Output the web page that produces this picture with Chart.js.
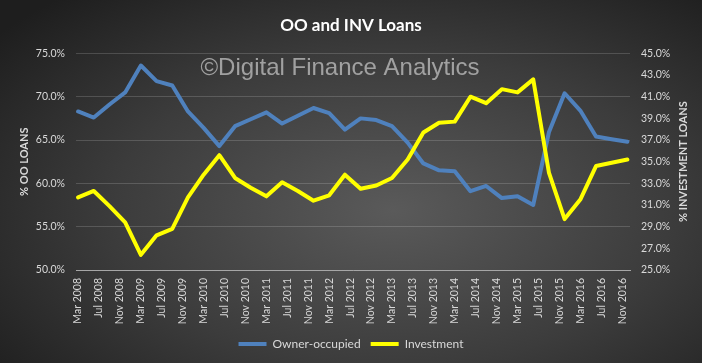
<!DOCTYPE html>
<html>
<head>
<meta charset="utf-8">
<title>OO and INV Loans</title>
<script src="https://cdn.jsdelivr.net/npm/chart.js@4.4.1/dist/chart.umd.min.js"></script>
<style>
  html, body { margin: 0; padding: 0; }
  body {
    width: 702px; height: 363px; overflow: hidden;
    background: radial-gradient(ellipse 72% 78% at 56% 58%, #5a5a5a 0%, #3c3c3c 55%, #1e1e1e 100%);
  }
  #wrap { position: relative; width: 702px; height: 363px; }
</style>
</head>
<body>
<div id="wrap"><canvas id="chart" width="702" height="363"></canvas></div>
<script>
// ── Data (quarterly shares, %) ──
const quarters = [
  'Mar 2008', 'Jun 2008', 'Sep 2008', 'Dec 2008',
  'Mar 2009', 'Jun 2009', 'Sep 2009', 'Dec 2009',
  'Mar 2010', 'Jun 2010', 'Sep 2010', 'Dec 2010',
  'Mar 2011', 'Jun 2011', 'Sep 2011', 'Dec 2011',
  'Mar 2012', 'Jun 2012', 'Sep 2012', 'Dec 2012',
  'Mar 2013', 'Jun 2013', 'Sep 2013', 'Dec 2013',
  'Mar 2014', 'Jun 2014', 'Sep 2014', 'Dec 2014',
  'Mar 2015', 'Jun 2015', 'Sep 2015', 'Dec 2015',
  'Mar 2016', 'Jun 2016', 'Sep 2016', 'Dec 2016'
];
const ownerOccupied = [
  68.3, 67.6, 69.1, 70.5, 73.6, 71.8, 71.3, 68.3, 66.4, 64.3, 66.6, 67.4,
  68.2, 66.9, 67.8, 68.7, 68.1, 66.2, 67.5, 67.3, 66.6, 64.7, 62.3, 61.5,
  61.4, 59.1, 59.7, 58.3, 58.5, 57.5, 65.9, 70.4, 68.4, 65.4, 65.1, 64.8
];
const investment = [
  31.7, 32.3, 30.9, 29.4, 26.4, 28.2, 28.8, 31.7, 33.8, 35.6, 33.5, 32.6,
  31.8, 33.1, 32.3, 31.4, 31.9, 33.8, 32.5, 32.8, 33.5, 35.2, 37.7, 38.6,
  38.7, 41.0, 40.4, 41.7, 41.4, 42.6, 34.0, 29.7, 31.5, 34.6, 34.9, 35.2
];
// x-axis labels, one every 4 months
const tickLabels = [
  'Mar 2008', 'Jul 2008', 'Nov 2008', 'Mar 2009', 'Jul 2009', 'Nov 2009',
  'Mar 2010', 'Jul 2010', 'Nov 2010', 'Mar 2011', 'Jul 2011', 'Nov 2011',
  'Mar 2012', 'Jul 2012', 'Nov 2012', 'Mar 2013', 'Jul 2013', 'Nov 2013',
  'Mar 2014', 'Jul 2014', 'Nov 2014', 'Mar 2015', 'Jul 2015', 'Nov 2015',
  'Mar 2016', 'Jul 2016', 'Nov 2016'
];
const ooTicks = [50, 55, 60, 65, 70, 75];
const invTicks = [25, 27, 29, 31, 33, 35, 37, 39, 41, 43, 45];

const MONTHS = ['Jan', 'Feb', 'Mar', 'Apr', 'May', 'Jun', 'Jul', 'Aug', 'Sep', 'Oct', 'Nov', 'Dec'];

// months since Mar 2008
function monthIndex(label) {
  const [m, y] = label.split(' ');
  return (Number(y) - 2008) * 12 + MONTHS.indexOf(m) - 2;
}

const toPoints = values => values.map((v, i) => ({ x: monthIndex(quarters[i]), y: v }));

const TEXT = '#d9d9d9';
const FONT = 'Lato, "Open Sans", sans-serif';

// ── Watermark + axis titles ──
const extraText = {
  id: 'extraText',
  beforeDatasetsDraw(chart) {
    const ctx = chart.ctx;
    ctx.save();
    ctx.font = '24px "Liberation Sans", Arial, sans-serif';
    ctx.fillStyle = 'rgba(200,200,200,0.72)';
    ctx.textAlign = 'center';
    ctx.textBaseline = 'alphabetic';
    ctx.fillText('©Digital Finance Analytics', 340, 75);
    ctx.restore();
  },
  afterDraw(chart) {
    const ctx = chart.ctx;
    const a = chart.chartArea;
    const midY = (a.top + a.bottom) / 2;
    ctx.save();
    ctx.font = 'bold 11px ' + FONT;
    ctx.fillStyle = TEXT;
    ctx.textAlign = 'center';
    ctx.textBaseline = 'middle';
    [[24, '% OO LOANS'], [683, '% INVESTMENT LOANS']].forEach(([x, txt]) => {
      ctx.save();
      ctx.translate(x, midY);
      ctx.rotate(-Math.PI / 2);
      ctx.fillText(txt, 0, 0);
      ctx.restore();
    });
    ctx.restore();
  }
};

new Chart(document.getElementById('chart'), {
  type: 'line',
  data: {
    datasets: [
      {
        label: 'Owner-occupied',
        data: toPoints(ownerOccupied),
        yAxisID: 'yOO',
        borderColor: '#4f81bd',
        backgroundColor: '#4f81bd',
        borderWidth: 4,
        pointRadius: 0,
        tension: 0,
        borderJoinStyle: 'round',
        borderCapStyle: 'round',
        order: 1
      },
      {
        label: 'Investment',
        data: toPoints(investment),
        yAxisID: 'yINV',
        borderColor: '#ffff00',
        backgroundColor: '#ffff00',
        borderWidth: 4,
        pointRadius: 0,
        tension: 0,
        borderJoinStyle: 'round',
        borderCapStyle: 'round',
        order: 0
      }
    ]
  },
  options: {
    responsive: false,
    animation: false,
    layout: { padding: { bottom: 3 } },
    plugins: {
      tooltip: { enabled: false },
      title: {
        display: true,
        text: 'OO and INV Loans',
        color: '#ffffff',
        font: { family: FONT, size: 17, weight: 'bold' },
        padding: { top: 15, bottom: 18 }
      },
      legend: {
        position: 'bottom',
        labels: {
          color: TEXT,
          font: { family: FONT, size: 12 },
          boxWidth: 28,
          boxHeight: 4,
          padding: 10,
          sort: (a, b) => a.datasetIndex - b.datasetIndex,
          generateLabels: chart =>
            Chart.defaults.plugins.legend.labels.generateLabels(chart)
              .map(l => ({ ...l, lineWidth: 0 }))
        }
      }
    },
    scales: {
      x: {
        type: 'linear',
        min: -0.4,
        max: 105.5,
        afterBuildTicks: scale => {
          scale.ticks = tickLabels.map((_, i) => ({ value: i * 4 }));
        },
        afterFit: scale => { scale.height = 58; },
        ticks: {
          autoSkip: false,
          minRotation: 90,
          maxRotation: 90,
          padding: 8,
          color: TEXT,
          font: { family: FONT, size: 10.5 },
          callback: v => tickLabels[v / 4]
        },
        grid: { display: false, drawTicks: false },
        border: { display: true, color: '#a6a6a6', width: 1 }
      },
      yOO: {
        position: 'left',
        min: 50,
        max: 75,
        afterBuildTicks: scale => { scale.ticks = ooTicks.map(v => ({ value: v })); },
        afterFit: scale => { scale.width = 76; },
        ticks: {
          padding: 11,
          color: TEXT,
          font: { family: FONT, size: 10.5 },
          callback: v => v.toFixed(1) + '%'
        },
        grid: { color: 'rgba(255,255,255,0.16)', lineWidth: 1, drawTicks: false },
        border: { display: false }
      },
      yINV: {
        position: 'right',
        min: 25,
        max: 45,
        afterBuildTicks: scale => { scale.ticks = invTicks.map(v => ({ value: v })); },
        afterFit: scale => { scale.width = 72; },
        ticks: {
          padding: 11,
          color: TEXT,
          font: { family: FONT, size: 10.5 },
          callback: v => v.toFixed(1) + '%'
        },
        grid: { display: false, drawTicks: false },
        border: { display: false }
      }
    }
  },
  plugins: [extraText]
});
</script>
</body>
</html>
